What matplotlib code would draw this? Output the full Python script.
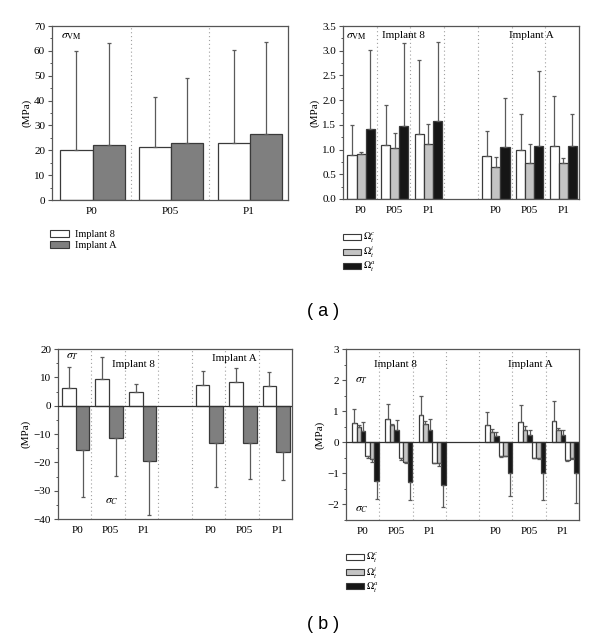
import numpy as np
import matplotlib
matplotlib.use('Agg')
import matplotlib.pyplot as plt
from matplotlib.patches import Patch
from matplotlib.ticker import MultipleLocator, FormatStrFormatter, FuncFormatter

plt.rcParams.update({
    "font.family": "Liberation Serif",
    "mathtext.fontset": "stix",
    "font.size": 8,
    "axes.edgecolor": "#555555",
    "axes.linewidth": 0.9,
    "xtick.labelsize": 8,
    "ytick.labelsize": 8,
})

# (a) left: von Mises, Implant 8 vs Implant A (bar value, error bar top)
vm_groups = ['P0', 'P05', 'P1']
vm_impl8 = [20.0, 21.5, 23.0]
vm_impl8_top = [60.0, 41.5, 60.5]
vm_implA = [22.0, 23.0, 26.5]
vm_implA_top = [63.0, 49.0, 63.5]

# (a) right: von Mises per region, slots: Implant 8 P0,P05,P1, gap, Implant A P0,P05,P1
reg_slots = [0, 1, 2, 4, 5, 6]
reg_labels = ['P0', 'P05', 'P1', 'P0', 'P05', 'P1']
vm_c = [0.90, 1.09, 1.32, 0.88, 1.00, 1.08]
vm_c_top = [1.50, 1.91, 2.82, 1.38, 1.71, 2.08]
vm_i = [0.92, 1.04, 1.11, 0.64, 0.72, 0.73]
vm_i_top = [0.96, 1.34, 1.51, 0.84, 1.12, 0.83]
vm_a = [1.42, 1.48, 1.57, 1.05, 1.08, 1.08]
vm_a_top = [3.02, 3.16, 3.17, 2.05, 2.58, 1.71]

# (b) left: tension / compression
t_vals = [6.3, 9.6, 4.9, 7.3, 8.2, 7.1]
t_top = [13.5, 17.3, 7.5, 12.2, 13.3, 12.0]
c_vals = [-15.6, -11.4, -19.6, -13.3, -13.3, -16.4]
c_top = [-32.1, -24.9, -38.6, -28.6, -25.9, -26.2]

# (b) right: tension / compression per region
tc = [0.62, 0.74, 0.88, 0.56, 0.66, 0.68]
tc_top = [1.06, 1.24, 1.50, 0.99, 1.19, 1.33]
ti = [0.50, 0.55, 0.60, 0.33, 0.38, 0.40]
ti_top = [0.55, 0.58, 0.67, 0.42, 0.53, 0.47]
ta = [0.36, 0.40, 0.40, 0.20, 0.22, 0.23]
ta_top = [0.65, 0.73, 0.74, 0.33, 0.38, 0.40]
cc = [-0.43, -0.52, -0.65, -0.45, -0.50, -0.56]
cc_top = [-0.50, -0.58, -0.68, -0.48, -0.52, -0.60]
ci = [-0.55, -0.63, -0.68, -0.43, -0.50, -0.49]
ci_top = [-0.62, -0.65, -0.76, -0.45, -0.55, -0.53]
ca = [-1.24, -1.27, -1.36, -0.98, -1.00, -1.00]
ca_top = [-1.83, -1.87, -2.07, -1.74, -1.84, -1.96]

WHITE, DGREY, LGREY, BLACK = 'white', '#7f7f7f', '#c4c4c4', '#161616'
EDGE = '#3a3a3a'
ECOL = '#5a5a5a'


def bars(ax, x, vals, tops, color, width):
    x = np.asarray(x, dtype=float)
    vals = np.asarray(vals)
    ext = np.abs(np.asarray(tops) - vals)
    up = np.where(vals >= 0, ext, 0)
    dn = np.where(vals < 0, ext, 0)
    ax.bar(x, vals, width=width, align='edge', color=color, edgecolor=EDGE,
           linewidth=0.9, zorder=2)
    ax.errorbar(x + width / 2, vals, yerr=[dn, up], fmt='none', ecolor=ECOL,
                elinewidth=0.9, capsize=1.5, capthick=0.9, zorder=3)


def frame(ax, nslots, ticks, labels, ylim, major, minor, zero=False):
    ax.set_xlim(0, nslots)
    ax.set_ylim(*ylim)
    for s in range(1, nslots):
        ax.axvline(s, color='#a0a0a0', linestyle=(0, (1, 2.5)), linewidth=0.8, zorder=1)
    if zero:
        ax.axhline(0, color='#333333', linewidth=0.9, zorder=4)
    ax.set_xticks(ticks)
    ax.set_xticklabels(labels)
    ax.tick_params(axis='x', length=0, pad=5)
    ax.yaxis.set_major_locator(MultipleLocator(major))
    ax.yaxis.set_minor_locator(MultipleLocator(minor))
    ax.tick_params(axis='y', which='major', length=3, width=0.8, color='#555555', pad=2)
    ax.tick_params(axis='y', which='minor', length=1.8, width=0.7, color='#555555')
    ax.set_ylabel('(MPa)', labelpad=2)


minus_fmt = FuncFormatter(lambda v, p: f'{v:.0f}'.replace('-', '\u2212'))

fig = plt.figure(figsize=(6, 6.44), dpi=100)

# (a) left
ax1 = fig.add_axes([0.0867, 0.6894, 0.3933, 0.2702])
s = np.arange(3)
bars(ax1, s + 0.105, vm_impl8, vm_impl8_top, WHITE, 0.41)
bars(ax1, s + 0.515, vm_implA, vm_implA_top, DGREY, 0.41)
frame(ax1, 3, s + 0.5, vm_groups, (0, 70), 10, 5)
ax1.yaxis.set_major_formatter(FormatStrFormatter('%d'))
ax1.text(0.25, 66, r'$\sigma_{\mathrm{VM}}$', ha='center', va='center', fontsize=8.5)
fig.legend(handles=[Patch(facecolor=WHITE, edgecolor=EDGE, linewidth=0.8, label='Implant 8'),
                    Patch(facecolor=DGREY, edgecolor=EDGE, linewidth=0.8, label='Implant A')],
           loc='upper left', bbox_to_anchor=(0.0833, 0.643), frameon=False, fontsize=7.5,
           handlelength=1.8, handleheight=0.6, labelspacing=0.2, handletextpad=0.6,
           borderpad=0, borderaxespad=0)

# (a) right
ax2 = fig.add_axes([0.5717, 0.691, 0.3933, 0.2686])
x = np.array(reg_slots, dtype=float)
bars(ax2, x + 0.13, vm_c, vm_c_top, WHITE, 0.27)
bars(ax2, x + 0.40, vm_i, vm_i_top, LGREY, 0.27)
bars(ax2, x + 0.67, vm_a, vm_a_top, BLACK, 0.27)
frame(ax2, 7, x + 0.53, reg_labels, (0, 3.5), 0.5, 0.25)
ax2.yaxis.set_major_formatter(FormatStrFormatter('%.1f'))
ax2.text(0.4, 3.3, r'$\sigma_{\mathrm{VM}}$', ha='center', va='center', fontsize=8.5)
ax2.text(1.8, 3.3, 'Implant 8', ha='center', va='center')
ax2.text(5.6, 3.3, 'Implant A', ha='center', va='center')

omega_handles = [Patch(facecolor=WHITE, edgecolor=EDGE, linewidth=0.8, label=r'$\Omega_t^c$'),
                 Patch(facecolor=LGREY, edgecolor=EDGE, linewidth=0.8, label=r'$\Omega_t^i$'),
                 Patch(facecolor=BLACK, edgecolor=EDGE, linewidth=0.8, label=r'$\Omega_t^a$')]
leg_kw = dict(loc='upper left', frameon=False, fontsize=7, handlelength=1.8, handleheight=0.6,
              labelspacing=-0.05, handletextpad=0.3, borderpad=0, borderaxespad=0)
fig.legend(handles=omega_handles, bbox_to_anchor=(0.5717, 0.642), **leg_kw)

fig.text(0.538, 0.517, '( a )', ha='center', va='center', fontsize=13, family='Liberation Sans')

# (b) left
ax3 = fig.add_axes([0.0967, 0.194, 0.39, 0.264])
bars(ax3, x + 0.12, t_vals, t_top, WHITE, 0.41)
bars(ax3, x + 0.53, c_vals, c_top, DGREY, 0.41)
frame(ax3, 7, x + 0.57, reg_labels, (-40, 20), 10, 5, zero=True)
ax3.yaxis.set_major_formatter(minus_fmt)
ax3.text(0.42, 17.4, r'$\sigma_T$', ha='center', va='center', fontsize=8.5)
ax3.text(1.6, -33.5, r'$\sigma_C$', ha='center', va='center', fontsize=8.5)
ax3.text(2.27, 14.7, 'Implant 8', ha='center', va='center')
ax3.text(5.27, 16.8, 'Implant A', ha='center', va='center')

# (b) right
ax4 = fig.add_axes([0.5767, 0.1925, 0.3883, 0.2655])
bars(ax4, x + 0.180, tc, tc_top, WHITE, 0.135)
bars(ax4, x + 0.315, ti, ti_top, LGREY, 0.135)
bars(ax4, x + 0.450, ta, ta_top, BLACK, 0.135)
bars(ax4, x + 0.585, cc, cc_top, WHITE, 0.135)
bars(ax4, x + 0.720, ci, ci_top, LGREY, 0.135)
bars(ax4, x + 0.855, ca, ca_top, BLACK, 0.135)
frame(ax4, 7, x + 0.5, reg_labels, (-2.5, 3), 1, 0.5, zero=True)
ax4.yaxis.set_major_formatter(minus_fmt)
ax4.text(0.48, 2.0, r'$\sigma_T$', ha='center', va='center', fontsize=8.5)
ax4.text(0.48, -2.13, r'$\sigma_C$', ha='center', va='center', fontsize=8.5)
ax4.text(1.48, 2.5, 'Implant 8', ha='center', va='center')
ax4.text(5.53, 2.5, 'Implant A', ha='center', va='center')
fig.legend(handles=omega_handles, bbox_to_anchor=(0.5767, 0.145), **leg_kw)

fig.text(0.538, 0.031, '( b )', ha='center', va='center', fontsize=13, family='Liberation Sans')

fig.savefig('out.png', dpi=100)
